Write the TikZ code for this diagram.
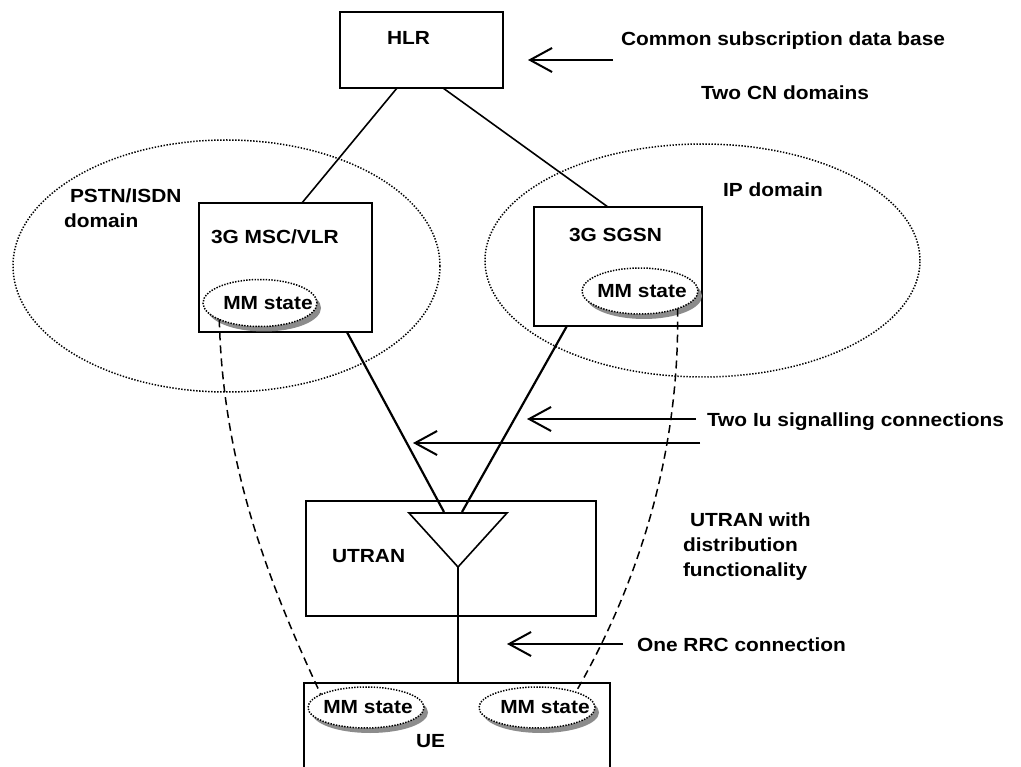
\documentclass[tikz,border=0pt]{standalone}
\usepackage{fontspec}
\setmainfont[FakeStretch=1.1]{Liberation Sans}
\usetikzlibrary{arrows.meta,shadows,calc,shapes.geometric}
\begin{document}
\begin{tikzpicture}[x=1pt,y=-1pt,
  every node/.style={font=\fontsize{19}{25}\selectfont\bfseries, inner sep=0pt, outer sep=0pt},
  lbl/.style={anchor=base west},
  box/.style={draw, line width=2.2pt, rectangle, anchor=north west},
  domline/.style={draw, ellipse, line width=1.5pt, dash pattern=on 1.4pt off 1.6pt},
  mm/.style={ellipse, draw, fill=white, line width=1.5pt, dash pattern=on 1.4pt off 1.4pt,
    copy shadow={shadow xshift=4pt, shadow yshift=-5pt, fill=gray!90, draw=none}},
  conn/.style={line width=1.6pt},
  thick conn/.style={line width=2.2pt},
  mmlink/.style={line width=1.5pt, dash pattern=on 8pt off 5pt},
  arr/.style={line width=2pt, -{Straight Barb[length=22pt,width=24pt,line width=2pt]}}
]
\useasboundingbox (0,0) rectangle (1021,767);
\clip (0,0) rectangle (1021,767);

% domains
\node[domline, minimum width=427pt, minimum height=252pt] (pstn) at (226.5,266) {};
\node[domline, minimum width=435pt, minimum height=233pt] (ipdom) at (702.5,260.5) {};

% boxes
\node[box, minimum width=163pt, minimum height=76pt] (hlr) at (340,12) {};
\node[box, minimum width=173pt, minimum height=129pt] (msc) at (199,203) {};
\node[box, minimum width=168pt, minimum height=119pt] (sgsn) at (534,207) {};
\node[box, minimum width=290pt, minimum height=115pt] (utran) at (306,501) {};
\node[box, minimum width=306pt, minimum height=120pt] (ue) at (304,683) {};

% box labels
\node[lbl] (hlrt) at (387,45) {HLR};
\node[lbl] (msct) at (211,244) {3G MSC/VLR};
\node[lbl] (sgsnt) at (569,242) {3G SGSN};
\node[lbl] (utrant) at (332,562) {UTRAN};
\node[lbl] (uet) at (416,747) {UE};

% distribution triangle
\coordinate (triL) at (409,513);
\coordinate (triR) at (507,513);
\coordinate (triB) at (458,567);
\draw[line width=1.6pt] (triL) -- (triR) -- (triB) -- cycle;
\coordinate (triA) at (444,512);
\coordinate (triC) at (462,512);

% connectors
\draw[conn] ($(hlr.south west)!0.35!(hlr.south east)$) -- ($(msc.north west)!0.595!(msc.north east)$);
\draw[conn] ($(hlr.south west)!0.632!(hlr.south east)$) -- ($(sgsn.north west)!0.44!(sgsn.north east)$);
\draw[thick conn] ($(msc.south west)!0.855!(msc.south east)$) -- (triA);
\draw[thick conn] ($(sgsn.south west)!0.196!(sgsn.south east)$) -- (triC);
\draw[conn] (triB) -- (triB |- ue.north);

% MM state ellipses
\node[mm, minimum width=114pt, minimum height=47pt] (mscmm) at (260,303) {\makebox[0pt]{\hspace{16pt}MM state}};
\node[mm, minimum width=116pt, minimum height=46pt] (sgsnmm) at (640,291) {\makebox[0pt]{\hspace{4pt}MM state}};

% dashed MM links (under the UE ellipses)
\draw[mmlink] (mscmm.202) .. controls (223,470) and (272,590) .. (322,697);
\draw[mmlink] (sgsnmm.-25) .. controls (680,450) and (640,580) .. (577,690);

\node[mm, minimum width=116pt, minimum height=41pt] (uemm1) at (366,707.5) {\makebox[0pt]{\hspace{4pt}MM state}};
\node[mm, minimum width=116pt, minimum height=41pt] (uemm2) at (537,707.5) {\makebox[0pt]{\hspace{16pt}MM state}};

% domain labels
\node[anchor=west, align=left] (pstnt) at (64,208.5) {\hspace*{6pt}PSTN/ISDN\\domain};
\node[lbl] (ipt) at (723,197) {IP domain};

% annotations
\node[lbl] (commont) at (621,46) {Common subscription data base};
\node[lbl] (twocnt) at (701,100) {Two CN domains};
\node[lbl] (iut) at (707,427) {Two Iu signalling connections};
\node[anchor=west, align=left] (distt) at (683,547) {\hspace*{7pt}UTRAN with\\distribution\\functionality};
\node[lbl] (rrct) at (637,651) {One RRC connection};

\coordinate (a1s) at (613,60);  \coordinate (a1e) at (528,60);
\coordinate (a2s) at (696,419); \coordinate (a2e) at (527,419);
\coordinate (a3s) at (700,443); \coordinate (a3e) at (413,443);
\coordinate (a4s) at (623,644); \coordinate (a4e) at (507,644);
\draw[arr] (a1s) -- (a1e);
\draw[arr] (a2s) -- (a2e);
\draw[arr] (a3s) -- (a3e);
\draw[arr] (a4s) -- (a4e);
\end{tikzpicture}
\end{document}
